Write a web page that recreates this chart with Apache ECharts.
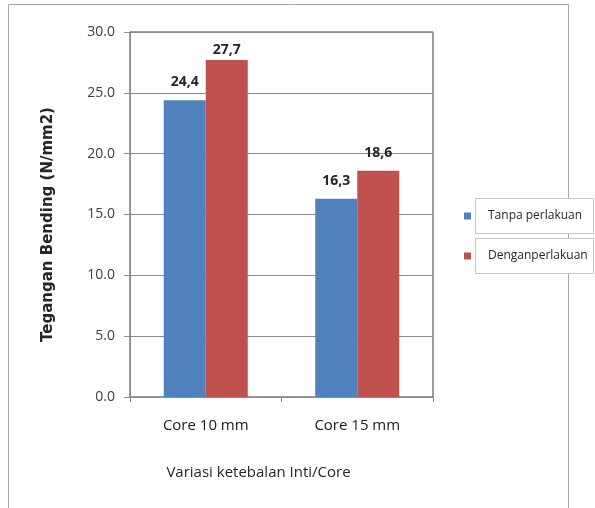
<!DOCTYPE html>
<html>
<head>
<meta charset="utf-8">
<script src="https://cdn.jsdelivr.net/npm/echarts@6/dist/echarts.min.js"></script>
<style>
  html, body { margin: 0; padding: 0; background: #fff; }
  #chart { width: 595px; height: 508px; }
</style>
</head>
<body>
<div id="chart"></div>
<script>
// Bending stress by core thickness, with and without treatment
const categories = ['Core 10 mm', 'Core 15 mm'];
const seriesNames = ['Tanpa perlakuan', 'Denganperlakuan'];
const tanpaValues = [24.4, 16.3];
const denganValues = [27.7, 18.6];
const yTicks = { min: 0, max: 30, interval: 5 };

const FONT = '"Open Sans", "Noto Sans", sans-serif';
const chart = echarts.init(document.getElementById('chart'), null, { renderer: 'canvas' });

function labelled(values, distances) {
  return values.map((v, i) => ({
    value: v,
    label: { distance: distances[i] }
  }));
}

const valueLabel = {
  show: true, position: 'top',
  fontFamily: FONT, fontSize: 14, fontWeight: 'bold', color: '#262626',
  formatter: p => String(p.value).replace('.', ',')
};

const option = {
  animation: false,
  backgroundColor: '#ffffff',
  graphic: [
    {
      type: 'rect', z: -10, silent: true,
      shape: { x: 8.5, y: 4.5, width: 560, height: 560 },
      style: { fill: 'none', stroke: '#a6a6a6', lineWidth: 1 }
    }
  ],
  grid: {
    left: 130, right: 162, top: 32, bottom: 111,
    show: true, borderColor: '#3a3a3a', borderWidth: 1, backgroundColor: 'transparent'
  },
  legend: {
    orient: 'vertical',
    left: 459, top: 193,
    itemWidth: 7, itemHeight: 7, itemGap: 4,
    icon: 'rect',
    data: seriesNames,
    textStyle: {
      fontFamily: FONT, fontSize: 12, color: '#262626',
      width: 93, height: 22, lineHeight: 22,
      borderColor: '#c8c8c8', borderWidth: 1,
      backgroundColor: '#ffffff',
      padding: [6, 12, 6, 12]
    }
  },
  xAxis: {
    type: 'category',
    data: categories,
    name: 'Variasi ketebalan Inti/Core',
    nameLocation: 'middle',
    nameGap: 68,
    nameTextStyle: { fontFamily: FONT, fontSize: 15, color: '#262626', padding: [0, 46, 0, 0] },
    axisLine: { lineStyle: { color: '#8c8c8c', width: 1 } },
    axisTick: { show: true, length: 5, lineStyle: { color: '#8c8c8c' } },
    axisLabel: { fontFamily: FONT, fontSize: 15, color: '#1a1a1a', margin: 21 }
  },
  yAxis: {
    type: 'value',
    min: yTicks.min, max: yTicks.max, interval: yTicks.interval,
    name: 'Tegangan Bending (N/mm2)',
    nameLocation: 'middle',
    nameGap: 74,
    nameTextStyle: {
      fontFamily: '"DejaVu Sans", sans-serif', fontSize: 15, fontWeight: 'bold', color: '#262626',
      padding: [0, 20, 0, 0]
    },
    axisLine: { show: true, lineStyle: { color: '#8c8c8c', width: 1 } },
    axisTick: { show: true, length: 6, lineStyle: { color: '#8c8c8c' } },
    axisLabel: {
      fontFamily: FONT, fontSize: 14, color: '#404040', margin: 15,
      formatter: v => v.toFixed(1)
    },
    splitLine: { lineStyle: { color: '#8c8c8c', width: 1 } }
  },
  series: [
    {
      name: seriesNames[0], type: 'bar',
      barWidth: 42, barGap: '0%',
      itemStyle: { color: '#4f81bd' },
      label: valueLabel,
      data: labelled(tanpaValues, [11, 11])
    },
    {
      name: seriesNames[1], type: 'bar',
      barWidth: 42,
      itemStyle: { color: '#c0504d' },
      label: valueLabel,
      data: labelled(denganValues, [3, 11])
    }
  ]
};

chart.setOption(option);
</script>
</body>
</html>
